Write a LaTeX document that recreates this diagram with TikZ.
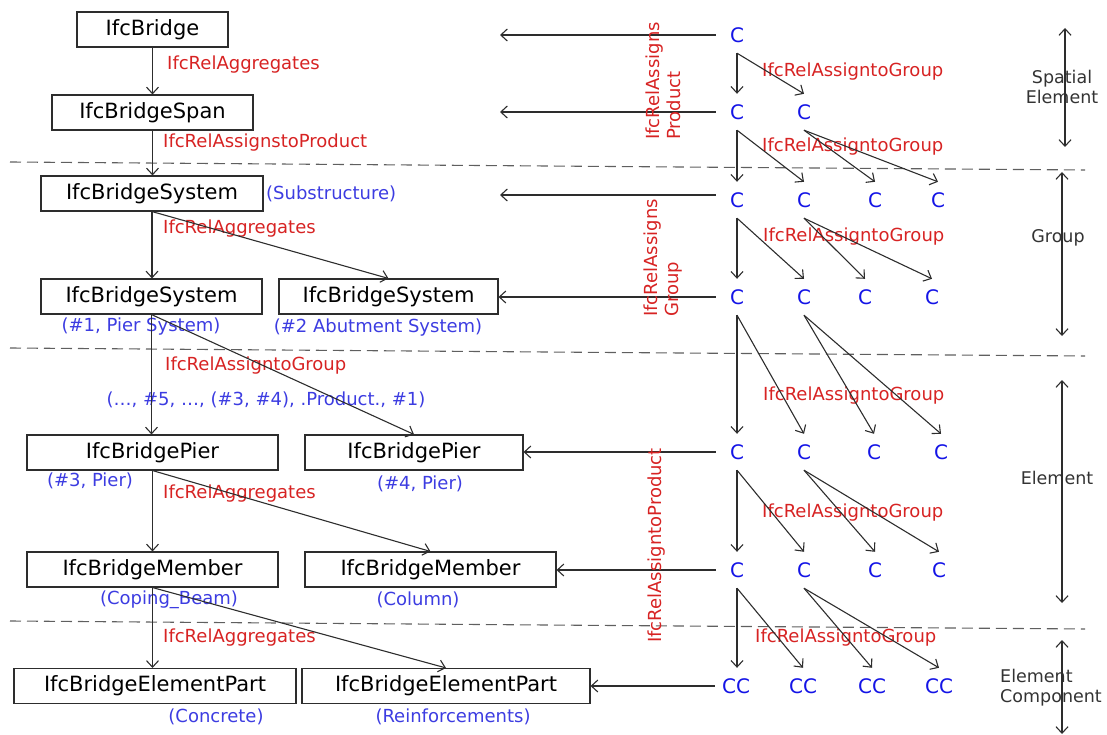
\documentclass[tikz,border=0pt]{standalone}
\usepackage{fontspec}
\setmainfont{DejaVu Sans}
\usetikzlibrary{arrows.meta}
\definecolor{redl}{RGB}{215,35,35}
\definecolor{bluel}{RGB}{60,60,225}
\definecolor{blueC}{RGB}{20,20,230}
\definecolor{linec}{RGB}{45,45,45}
\definecolor{dashc}{RGB}{95,95,95}
\begin{document}
\begin{tikzpicture}[x=1pt,y=-1pt,
 box/.style={draw=linec, line width=1.1pt, minimum height=35pt, inner sep=0pt, font=\fontsize{21}{25}\selectfont},
 rel/.style={text=redl, anchor=west, inner sep=0pt, font=\fontsize{18}{21}\selectfont},
 vrel/.style={text=redl, anchor=west, rotate=90, align=left, inner sep=0pt, font=\fontsize{18}{21}\selectfont},
 ann/.style={text=bluel, inner sep=0pt, font=\fontsize{18}{21}\selectfont},
 cn/.style={text=blueC, minimum width=42pt, minimum height=36pt, inner sep=0pt, font=\fontsize{20}{24}\selectfont},
 arr/.style={draw=linec, line width=1.1pt, -{Straight Barb[length=6.5pt,width=12pt]}},
 darr/.style={draw=linec, line width=1.1pt, {Straight Barb[length=6.5pt,width=12pt]}-{Straight Barb[length=6.5pt,width=12pt]}},
 sep/.style={draw=dashc, line width=1.1pt, dash pattern=on 11pt off 6pt},
 tier/.style={text=black!80, font=\fontsize{17.5}{20}\selectfont, inner sep=0pt, align=center},
]
\useasboundingbox (0,0) rectangle (1107,735);

% separators
\draw[sep] (10,162) -- (1085,170);
\draw[sep] (10,348) -- (1085,356);
\draw[sep] (10,621) -- (1085,629);

% left boxes
\node[box, minimum width=151pt] (br)   at (152.5,29.5)  {IfcBridge};
\node[box, minimum width=201pt] (span) at (152.5,112.5) {IfcBridgeSpan};
\node[box, minimum width=222pt] (sys)  at (152,193.5)   {IfcBridgeSystem};
\node[box, minimum width=221pt] (sys1) at (151.5,296.5) {IfcBridgeSystem};
\node[box, minimum width=219pt] (sys2) at (388.5,296.5) {IfcBridgeSystem};
\node[box, minimum width=251pt] (pier3) at (152.5,452.5) {IfcBridgePier};
\node[box, minimum width=218pt] (pier4) at (414,452.5)  {IfcBridgePier};
\node[box, minimum width=251pt] (mem)  at (152.5,569.5) {IfcBridgeMember};
\node[box, minimum width=251pt] (mem2) at (430.5,569.5) {IfcBridgeMember};
\node[box, minimum width=282pt] (ep)   at (155,686)     {IfcBridgeElementPart};
\node[box, minimum width=288pt] (ep2)  at (446,686)     {IfcBridgeElementPart};

% red relation labels
\node[rel] (r1) at (167,65)  {IfcRelAggregates};
\node[rel] (r2) at (163,143) {IfcRelAssignstoProduct};
\node[rel] (r3) at (163,229) {IfcRelAggregates};
\node[rel] (r4) at (165,366) {IfcRelAssigntoGroup};
\node[rel] (r5) at (163,494) {IfcRelAggregates};
\node[rel] (r6) at (163,638) {IfcRelAggregates};

% blue annotations
\node[ann, anchor=west] (a0) at (266,194) {(Substructure)};
\node[ann] (a1) at (141,327) {(\#1, Pier System)};
\node[ann] (a2) at (378,328) {(\#2 Abutment System)};
\node[ann] (a3) at (266,400) {(…, \#5, …, (\#3, \#4), .Product., \#1)};
\node[ann] (a4) at (90,481)  {(\#3, Pier)};
\node[ann] (a5) at (420,484) {(\#4, Pier)};
\node[ann] (a6) at (169,600) {(Coping\_Beam)};
\node[ann] (a7) at (418,600) {(Column)};
\node[ann] (a8) at (216,717) {(Concrete)};
\node[ann] (a9) at (453,717) {(Reinforcements)};

% left arrows
\draw[arr] (br.south) -- (span.north);
\draw[arr] (span.south) -- (span.south |- sys.north);
\draw[arr] (sys.south) -- (sys.south |- sys1.north);
\draw[arr] (sys.south) -- (sys2.north);
\draw[arr] (sys1.south) -- (sys1.south |- pier3.north);
\draw[arr] (sys1.south) -- (pier4.north);
\draw[arr] (pier3.south) -- (mem.north);
\draw[arr] (pier3.south) -- (mem2.north);
\draw[arr] (mem.south) -- (mem.south |- ep.north);
\draw[arr] (mem.south) -- (ep2.north);

% C grid
\node[cn] (c11) at (737,35) {C};
\node[cn] (c21) at (737,112) {C};
\node[cn] (c22) at (804,112) {C};
\node[cn] (c31) at (737,200) {C};
\node[cn] (c32) at (804,200) {C};
\node[cn] (c33) at (875,200) {C};
\node[cn] (c34) at (938,200) {C};
\node[cn] (c41) at (737,297) {C};
\node[cn] (c42) at (804,297) {C};
\node[cn] (c43) at (865,297) {C};
\node[cn] (c44) at (932,297) {C};
\node[cn] (c51) at (737,452) {C};
\node[cn] (c52) at (804,452) {C};
\node[cn] (c53) at (874,452) {C};
\node[cn] (c54) at (941,452) {C};
\node[cn] (c61) at (737,570) {C};
\node[cn] (c62) at (804,570) {C};
\node[cn] (c63) at (875,570) {C};
\node[cn] (c64) at (939,570) {C};
\node[cn] (c71) at (736,686) {CC};
\node[cn] (c72) at (803,686) {CC};
\node[cn] (c73) at (872,686) {CC};
\node[cn] (c74) at (939,686) {CC};

% grid labels
\node[rel] (g1) at (762,72)  {IfcRelAssigntoGroup};
\node[rel] (g2) at (762,147) {IfcRelAssigntoGroup};
\node[rel] (g3) at (763,237) {IfcRelAssigntoGroup};
\node[rel] (g4) at (763,396) {IfcRelAssigntoGroup};
\node[rel] (g5) at (762,513) {IfcRelAssigntoGroup};
\node[rel] (g6) at (755,638) {IfcRelAssigntoGroup};

% grid arrows
\draw[arr] (c11.south) -- (c21.north);
\draw[arr] (c11.south) -- (c22.north);
\draw[arr] (c21.south) -- (c31.north);
\draw[arr] (c21.south) -- (c32.north);
\draw[arr] (c22.south) -- (c33.north);
\draw[arr] (c22.south) -- (c34.north);
\draw[arr] (c31.south) -- (c41.north);
\draw[arr] (c31.south) -- (c42.north);
\draw[arr] (c32.south) -- (c43.north);
\draw[arr] (c32.south) -- (c44.north);
\draw[arr] (c41.south) -- (c51.north);
\draw[arr] (c41.south) -- (c52.north);
\draw[arr] (c42.south) -- (c53.north);
\draw[arr] (c42.south) -- (c54.north);
\draw[arr] (c51.south) -- (c61.north);
\draw[arr] (c51.south) -- (c62.north);
\draw[arr] (c52.south) -- (c63.north);
\draw[arr] (c52.south) -- (c64.north);
\draw[arr] (c61.south) -- (c61.south |- c71.north);
\draw[arr] (c61.south) -- (c72.north);
\draw[arr] (c62.south) -- (c73.north);
\draw[arr] (c62.south) -- (c74.north);

% horizontal arrows
\coordinate (f1) at (500,35);
\coordinate (f2) at (500,112);
\coordinate (f3) at (500,195);
\draw[arr] (c11.west |- f1) -- (f1);
\draw[arr] (c21.west |- f2) -- (f2);
\draw[arr] (c31.west |- f3) -- (f3);
\draw[arr] (c41.west) -- (c41.west -| sys2.east);
\draw[arr] (c51.west) -- (c51.west -| pier4.east);
\draw[arr] (c61.west) -- (c61.west -| mem2.east);
\draw[arr] (c71.west) -- (c71.west -| ep2.east);

% vertical red labels
\node[vrel] (v1) at (663,140) {IfcRelAssigns\\Product};
\node[vrel] (v2) at (663,317) {IfcRelAssigns\\Group};
\node[vrel] (v3) at (657,643) {IfcRelAssigntoProduct};

% tiers
\node[tier] (t1) at (1062,87)  {Spatial\\Element};
\node[tier] (t2) at (1058,238) {Group};
\node[tier] (t3) at (1057,478) {Element};
\node[tier, anchor=west, align=left] (t4) at (1000,688) {Element\\Component};
\coordinate (d1a) at (1065,28);  \coordinate (d1b) at (1065,147);
\coordinate (d2a) at (1062,172); \coordinate (d2b) at (1062,336);
\coordinate (d3a) at (1062,380); \coordinate (d3b) at (1062,603);
\coordinate (d4a) at (1062,640); \coordinate (d4b) at (1062,734);
\draw[darr] (d1a) -- (d1b);
\draw[darr] (d2a) -- (d2b);
\draw[darr] (d3a) -- (d3b);
\draw[darr] (d4a) -- (d4b);
\end{tikzpicture}
\end{document}
